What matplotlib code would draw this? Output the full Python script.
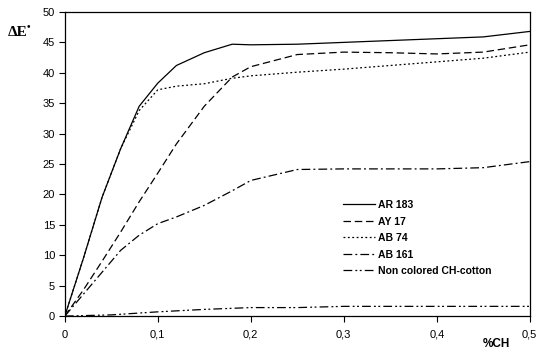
import matplotlib
matplotlib.use('Agg')
import matplotlib.pyplot as plt
from matplotlib.ticker import FuncFormatter

# Data
x = [0, 0.02, 0.04, 0.06, 0.08, 0.1, 0.12, 0.15, 0.18, 0.2, 0.25, 0.3, 0.35, 0.4, 0.45, 0.5]
ar183 = [0, 9.5, 19.5, 27.5, 34.5, 38.3, 41.2, 43.3, 44.7, 44.6, 44.7, 45.0, 45.3, 45.6, 45.9, 46.8]
ay17 = [0, 4.3, 9.0, 13.8, 18.8, 23.5, 28.3, 34.5, 39.3, 41.0, 43.0, 43.4, 43.3, 43.1, 43.4, 44.6]
ab74 = [0, 9.5, 19.5, 27.5, 33.8, 37.2, 37.8, 38.2, 39.1, 39.5, 40.1, 40.6, 41.2, 41.8, 42.4, 43.4]
ab161 = [0, 3.6, 7.2, 10.8, 13.3, 15.2, 16.3, 18.2, 20.6, 22.3, 24.1, 24.2, 24.2, 24.2, 24.4, 25.4]

x_nc = [0, 0.05, 0.1, 0.15, 0.2, 0.25, 0.3, 0.35, 0.4, 0.45, 0.5]
noncol = [0, 0.2, 0.7, 1.1, 1.4, 1.4, 1.6, 1.6, 1.6, 1.6, 1.6]

labels = ['AR 183', 'AY 17', 'AB 74', 'AB 161', 'Non colored CH-cotton']

plt.rcParams['font.family'] = ['Liberation Sans', 'DejaVu Sans']

fig = plt.figure(figsize=(5.4, 3.52), dpi=100)
ax = fig.add_axes([0.12, 0.102, 0.861, 0.864])

lw = 0.9
ax.plot(x, ar183, color='black', lw=lw, linestyle='-', label=labels[0])
ax.plot(x, ay17, color='black', lw=lw, linestyle=(0, (6, 3)), label=labels[1])
ax.plot(x, ab74, color='black', lw=lw, linestyle=(0, (1.5, 2)), label=labels[2])
ax.plot(x, ab161, color='black', lw=lw, linestyle=(0, (7, 2.5, 1.5, 2.5)), label=labels[3])
ax.plot(x_nc, noncol, color='black', lw=lw, linestyle=(0, (7, 2.5, 1.5, 2, 1.5, 2.5)), label=labels[4])

ax.set_xlim(0, 0.5)
ax.set_ylim(0, 50)
ax.set_xticks([0, 0.1, 0.2, 0.3, 0.4, 0.5])
ax.set_yticks(range(0, 51, 5))
ax.xaxis.set_major_formatter(FuncFormatter(lambda v, p: ('%g' % v).replace('.', ',')))
ax.tick_params(direction='out', length=4, width=0.8, labelsize=8, pad=3)
ax.tick_params(axis='x', pad=6)
for s in ax.spines.values():
    s.set_linewidth(0.9)

leg = ax.legend(loc='upper left', bbox_to_anchor=(0.59, 0.395), frameon=False,
                prop={'weight': 'bold', 'size': 7.5}, handlelength=3.0,
                handletextpad=0.3, labelspacing=0.62, borderaxespad=0)

# y label: bold serif Delta E with a small raised bullet
fig.text(0.015, 0.909, 'ΔE', fontsize=11, fontweight='bold',
         family='Liberation Serif', ha='left', va='center')
fig.text(0.05, 0.925, '•', fontsize=7.5, fontweight='bold',
         family='Liberation Serif', ha='left', va='center')
fig.text(0.92, 0.022, '%CH', fontsize=8.5, fontweight='bold', ha='center', va='center')

fig.savefig('out.png', dpi=100)
